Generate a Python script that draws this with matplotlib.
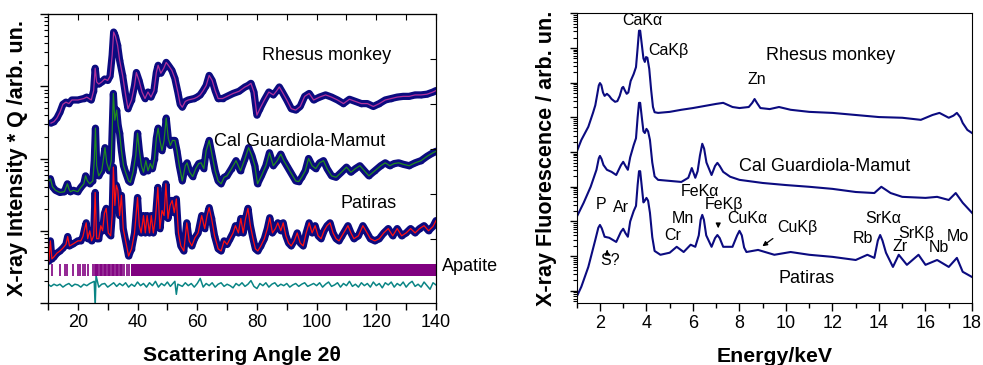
import matplotlib
matplotlib.use('Agg')
import matplotlib.pyplot as plt
import numpy as np
from matplotlib.ticker import MultipleLocator, LogLocator, NullFormatter

plt.rcParams['font.family'] = ['Liberation Sans', 'DejaVu Sans']

# ---------------- data: XRD (x = 2theta, y = log10 intensity*Q) ----------------
rhesus_xrd = [(11, 2.49), (12, 2.51), (13, 2.56), (14, 2.64), (15, 2.75), (16, 2.78), (17, 2.76), (18, 2.81),
              (20, 2.81), (22, 2.83), (23, 2.85), (24.5, 2.81), (25.3, 2.94), (25.8, 3.25), (26.3, 3.06),
              (27, 3.03), (28, 3.06), (29, 3.10), (30, 3.08), (30.8, 3.14), (31.5, 3.43), (32, 3.75),
              (32.6, 3.69), (33.3, 3.57), (34, 3.36), (35, 3.15), (36, 2.88), (36.8, 2.69), (38, 2.81),
              (39, 3.01), (39.6, 3.19), (40.5, 3.08), (41.5, 2.92), (42.5, 2.83), (43.5, 2.92), (44.5, 2.85),
              (45.5, 2.94), (46.3, 3.19), (46.9, 3.29), (47.8, 3.18), (48.8, 3.25), (49.6, 3.33), (50.5, 3.28),
              (51.5, 3.22), (52.5, 3.11), (53.5, 2.92), (54.3, 2.75), (55, 2.71), (56, 2.79), (57, 2.81),
              (58, 2.82), (59, 2.83), (60, 2.85), (61, 2.88), (62, 2.94), (63, 3.01), (64, 3.15), (65, 3.08),
              (66, 2.94), (67, 2.83), (68.5, 2.83), (70, 2.86), (72, 2.90), (74, 2.93), (76, 2.99), (77, 3.01),
              (78, 3.04), (79, 2.92), (80, 2.60), (81, 2.69), (82.5, 2.81), (84, 2.92), (85.5, 2.88),
              (86.5, 2.93), (87.5, 2.99), (88.5, 2.92), (90, 2.81), (91.5, 2.69), (93, 2.67), (94.5, 2.72),
              (96, 2.86), (97.5, 2.90), (99, 2.81), (101, 2.85), (103, 2.88), (105, 2.85), (107, 2.81),
              (109, 2.76), (111, 2.82), (113, 2.79), (115, 2.76), (117, 2.76), (119, 2.72), (121, 2.76),
              (123, 2.81), (125, 2.83), (127, 2.85), (129, 2.86), (131, 2.86), (133, 2.88), (135, 2.88),
              (137, 2.89), (139, 2.92), (140, 2.94)]

cal_xrd = [(10.3, 1.69), (10.8, 1.72), (11.5, 1.61), (12.5, 1.56), (14, 1.53), (15.5, 1.54), (16.5, 1.65),
           (17, 1.58), (17.5, 1.54), (18.5, 1.56), (20, 1.54), (21, 1.60), (22, 1.65), (22.6, 1.76),
           (23.2, 1.69), (24, 1.65), (25, 1.69), (25.5, 1.97), (25.9, 2.42), (26.3, 1.90), (27, 1.76),
           (28, 1.83), (28.5, 1.97), (29.1, 2.15), (29.7, 1.94), (30.5, 1.83), (31.2, 1.97), (31.9, 2.90),
           (32.4, 2.53), (33, 2.67), (33.5, 2.46), (34, 2.35), (34.6, 2.11), (35.3, 1.90), (36, 1.81),
           (37, 1.69), (37.6, 1.67), (38.5, 1.81), (39.4, 2.04), (40, 2.35), (40.6, 2.11), (41.3, 1.90),
           (42, 1.81), (42.8, 1.97), (43.5, 1.83), (44.3, 1.93), (45, 1.86), (45.7, 2.00), (46.3, 2.28),
           (46.9, 2.42), (47.5, 2.25), (48.2, 2.11), (48.9, 2.25), (49.6, 2.56), (50.3, 2.28), (51, 2.18),
           (51.7, 2.25), (52.5, 2.25), (53.2, 2.11), (54, 1.90), (55, 1.69), (56, 1.90), (56.6, 1.94),
           (57.5, 1.81), (58.5, 1.75), (59.5, 1.86), (60.5, 1.93), (61.3, 1.94), (62.2, 1.86), (63, 2.11),
           (64, 2.25), (65, 2.04), (66, 1.83), (67, 1.69), (68, 1.65), (69, 1.74), (70, 1.76), (71.5, 1.86),
           (73, 1.97), (74.5, 1.83), (76, 2.00), (77.2, 2.15), (78.3, 2.04), (79.3, 1.90), (80.2, 1.65),
           (81.5, 1.76), (83, 1.90), (84.2, 2.08), (85.5, 1.90), (86.8, 1.97), (88, 2.06), (89, 1.97),
           (90, 1.90), (91, 1.83), (92, 1.76), (93, 1.69), (94, 1.68), (95, 1.74), (96.2, 1.83),
           (97.3, 2.00), (98.5, 1.90), (99.7, 1.86), (101, 1.94), (102.3, 1.97), (103.5, 1.86),
           (105, 1.76), (106.5, 1.74), (108.3, 1.81), (110, 1.88), (111.5, 1.81), (113, 1.86),
           (114.5, 1.90), (116, 1.83), (117.5, 1.76), (119.5, 1.83), (121.5, 1.90), (123, 1.94),
           (124.5, 1.90), (126, 1.93), (127.5, 1.94), (129, 1.92), (131, 1.90), (133, 1.94), (135, 1.97),
           (137, 2.03), (139, 2.08), (140, 2.10)]

patiras_xrd = [(10.3, 0.58), (10.8, 0.86), (11.3, 0.61), (12, 0.64), (13, 0.69), (14, 0.72), (15, 0.76),
               (16, 0.81), (16.6, 0.92), (17.2, 0.79), (18.5, 0.82), (20, 0.86), (21, 0.86), (21.7, 0.92),
               (22.3, 1.03), (22.8, 1.11), (23.3, 0.89), (24, 1.00), (24.6, 0.86), (25.3, 0.93), (25.8, 1.53),
               (26.3, 0.89), (27, 0.89), (27.7, 1.07), (28.3, 1.00), (28.9, 1.24), (29.5, 1.31), (30.2, 0.97),
               (31, 0.93), (31.5, 1.21), (31.9, 1.88), (32.4, 1.35), (32.9, 1.63), (33.4, 1.56), (34, 1.21),
               (34.6, 1.49), (35.2, 1.03), (36, 0.86), (37, 0.65), (38, 0.75), (39, 0.97), (40, 1.46),
               (40.6, 1.07), (41.2, 0.97), (42, 1.21), (42.6, 0.97), (43.2, 1.21), (44, 0.97), (44.6, 1.21),
               (45.3, 0.97), (46, 1.17), (46.8, 1.60), (47.5, 1.03), (48.2, 1.28), (48.9, 1.21), (49.5, 1.65),
               (50.2, 1.17), (50.9, 1.35), (51.6, 1.42), (52.3, 1.25), (53, 1.44), (53.7, 0.97), (54.5, 0.79),
               (55.5, 0.72), (56.5, 1.11), (57.3, 0.86), (58.2, 0.79), (59.2, 0.90), (60.3, 0.97),
               (61.5, 1.21), (62.5, 1.03), (63.3, 1.21), (64, 1.32), (64.8, 1.17), (65.8, 0.93), (67, 0.75),
               (68, 0.72), (69, 0.86), (70, 0.81), (71, 0.89), (72, 0.97), (72.8, 1.07), (73.8, 0.97),
               (74.6, 1.17), (75.4, 0.97), (76.2, 1.17), (77, 1.31), (77.8, 1.07), (78.7, 0.89), (79.5, 0.75),
               (80.3, 0.72), (81.3, 0.79), (82.5, 0.89), (83.5, 1.03), (84.3, 1.18), (85.2, 0.97),
               (86.2, 1.03), (87, 1.11), (88, 1.00), (88.8, 1.11), (89.7, 0.93), (90.6, 0.83), (91.5, 0.79),
               (92.5, 0.86), (93.5, 0.97), (94.5, 0.83), (95.5, 0.79), (96.5, 0.97), (97.5, 1.11),
               (98.5, 0.97), (99.5, 1.07), (100.5, 0.93), (101.5, 0.89), (102.5, 1.00), (103.5, 1.07),
               (104.5, 1.11), (105.5, 0.97), (106.5, 0.89), (107.5, 0.86), (108.5, 0.93), (109.5, 1.00),
               (110.5, 1.07), (111.5, 0.97), (112.5, 0.89), (114, 0.93), (115.5, 1.07), (116.5, 1.00),
               (118, 0.89), (119.5, 0.86), (121, 0.89), (122.5, 0.97), (124, 1.03), (125.5, 0.93),
               (127, 1.03), (128.5, 0.93), (130, 0.97), (131.5, 1.03), (133, 0.97), (134.5, 1.03),
               (136, 1.07), (137.5, 1.00), (139, 1.06), (140, 1.14)]

difference_xrd = [(10.3, 0.25), (11, 0.23), (12, 0.26), (13, 0.24), (14, 0.26), (15, 0.22), (16, 0.25),
                  (17, 0.27), (18, 0.23), (19, 0.26), (20, 0.25), (21, 0.22), (22, 0.26), (23, 0.24),
                  (24, 0.27), (25.5, 0.30), (25.8, -0.05), (26.1, 0.38), (27, 0.22), (28, 0.26), (29, 0.27),
                  (30, 0.22), (31, 0.25), (32, 0.28), (33, 0.23), (34, 0.27), (35, 0.24), (36, 0.28),
                  (37, 0.22), (38, 0.26), (39, 0.23), (40, 0.29), (41, 0.24), (42, 0.27), (43, 0.22),
                  (44, 0.28), (45, 0.24), (46, 0.30), (47, 0.22), (48, 0.27), (49, 0.24), (50, 0.29),
                  (51, 0.23), (52.5, 0.30), (53, 0.12), (53.5, 0.26), (55, 0.23), (56, 0.28), (57, 0.24),
                  (58, 0.27), (59, 0.22), (60, 0.27), (61, 0.34), (62, 0.22), (63, 0.27), (64, 0.24),
                  (65, 0.28), (66, 0.22), (67, 0.26), (68, 0.28), (69, 0.23), (70, 0.26), (71, 0.24),
                  (72, 0.21), (73, 0.27), (74, 0.24), (75, 0.28), (76, 0.23), (77, 0.26), (78, 0.31),
                  (79, 0.23), (80, 0.20), (81, 0.27), (82, 0.24), (83, 0.28), (84, 0.22), (85, 0.26),
                  (86, 0.28), (87, 0.23), (88, 0.26), (89, 0.24), (90, 0.27), (91, 0.22), (92, 0.25),
                  (93, 0.27), (94, 0.23), (95, 0.26), (96, 0.28), (97, 0.23), (98, 0.25), (99, 0.27),
                  (100, 0.24), (101, 0.28), (102, 0.22), (103, 0.26), (104, 0.29), (105, 0.23), (106, 0.25),
                  (107, 0.28), (108, 0.22), (109, 0.27), (110, 0.24), (111, 0.30), (112, 0.23), (113, 0.26),
                  (114, 0.22), (115, 0.28), (116, 0.24), (117, 0.27), (118, 0.22), (119, 0.29), (120, 0.24),
                  (121, 0.27), (122, 0.21), (123, 0.28), (124, 0.25), (125, 0.29), (126, 0.22), (127, 0.27),
                  (128, 0.24), (129, 0.29), (130, 0.22), (131, 0.27), (132, 0.30), (133, 0.23), (134, 0.26),
                  (135, 0.22), (136, 0.29), (137, 0.24), (138, 0.19), (139, 0.28), (140, 0.25)]

apatite_reflections = [11.3, 13.9, 15.8, 16.3, 18.3, 20.0, 20.8, 21.7, 22.5, 23.4, 25.2, 25.6, 26.0, 26.5,
                       26.9, 27.4, 27.8, 28.2, 28.7, 29.1, 29.6, 30.0, 30.5, 30.9, 31.4, 31.8, 32.2, 32.7,
                       33.1, 33.6, 34.0, 34.5, 34.9, 35.3, 36.4, 37.0]
apatite_dense_range = (37.8, 140.0)
apatite_band = (0.375, 0.54)   # log10 extent of tick marks

# ---------------- data: XRF (x = keV, y = log10 fluorescence) ----------------
rhesus_xrf = [(1.0, 4.01), (1.2, 4.35), (1.5, 4.73), (1.7, 5.13), (1.8, 5.35), (1.88, 5.65), (1.95, 5.92),
              (2.0, 5.99), (2.06, 5.93), (2.13, 5.72), (2.2, 5.62), (2.3, 5.68), (2.4, 5.62), (2.5, 5.53),
              (2.65, 5.45), (2.75, 5.47), (2.85, 5.62), (2.95, 5.85), (3.0, 5.88), (3.07, 5.78), (3.15, 5.68),
              (3.22, 5.72), (3.32, 6.05), (3.45, 6.25), (3.55, 6.45), (3.62, 7.0), (3.68, 7.5), (3.73, 7.5),
              (3.8, 7.1), (3.87, 6.7), (3.93, 6.6), (3.98, 6.74), (4.04, 6.72), (4.12, 6.4), (4.2, 5.8),
              (4.28, 5.3), (4.35, 5.15), (4.5, 5.13), (5.0, 5.16), (5.5, 5.22), (6.0, 5.27), (6.5, 5.33),
              (7.0, 5.39), (7.3, 5.42), (7.7, 5.30), (8.0, 5.27), (8.4, 5.30), (8.55, 5.42), (8.65, 5.53),
              (8.75, 5.42), (8.9, 5.27), (9.3, 5.24), (9.7, 5.30), (10.2, 5.22), (11, 5.16), (12, 5.13),
              (13, 5.07), (14, 5.01), (15, 4.99), (15.8, 4.93), (16.3, 5.07), (16.6, 5.13), (17.0, 4.99),
              (17.2, 5.05), (17.35, 5.13), (17.5, 5.0), (17.6, 4.84), (17.8, 4.64), (18.0, 4.55)]

cal_xrf = [(1.0, 2.13), (1.3, 2.54), (1.6, 3.00), (1.85, 3.49), (1.95, 3.82), (2.0, 3.89), (2.07, 3.80),
           (2.15, 3.63), (2.3, 3.49), (2.5, 3.43), (2.7, 3.34), (2.9, 3.62), (3.0, 3.72), (3.1, 3.60),
           (3.2, 3.49), (3.3, 3.85), (3.45, 4.20), (3.55, 4.40), (3.62, 5.00), (3.68, 5.42), (3.73, 5.42),
           (3.8, 5.00), (3.87, 4.60), (3.93, 4.55), (4.0, 4.67), (4.07, 4.60), (4.15, 4.35), (4.25, 3.70),
           (4.35, 3.30), (4.5, 3.20), (5.0, 3.17), (5.5, 3.14), (5.8, 3.26), (5.95, 3.54), (6.1, 3.26),
           (6.2, 3.45), (6.3, 3.90), (6.4, 4.24), (6.48, 4.10), (6.58, 3.70), (6.8, 3.34), (6.95, 3.60),
           (7.05, 3.69), (7.15, 3.60), (7.3, 3.43), (7.6, 3.29), (8.0, 3.20), (9.0, 3.11), (10, 3.05),
           (11, 3.00), (12, 2.94), (13, 2.85), (13.8, 2.82), (14.1, 3.00), (14.5, 2.82), (15, 2.71),
           (16, 2.68), (16.5, 2.71), (17, 2.62), (17.3, 2.82), (17.6, 2.54), (18, 2.25)]

patiras_xrf = [(1.0, -0.17), (1.2, 0.12), (1.5, 0.69), (1.8, 1.47), (1.93, 1.82), (2.0, 1.90), (2.08, 1.80),
               (2.2, 1.56), (2.4, 1.53), (2.7, 1.41), (2.9, 1.70), (3.0, 1.79), (3.1, 1.66), (3.2, 1.56),
               (3.3, 2.00), (3.45, 2.30), (3.55, 2.45), (3.62, 3.05), (3.68, 3.45), (3.73, 3.45), (3.8, 3.00),
               (3.87, 2.55), (3.93, 2.60), (4.0, 2.68), (4.07, 2.60), (4.15, 2.25), (4.25, 1.55), (4.35, 1.15),
               (4.6, 1.04), (5.0, 1.10), (5.3, 1.27), (5.6, 1.12), (5.9, 1.33), (6.1, 1.27), (6.25, 1.60),
               (6.33, 2.05), (6.4, 2.19), (6.47, 2.05), (6.57, 1.60), (6.8, 1.27), (6.95, 1.52), (7.05, 1.61),
               (7.15, 1.52), (7.3, 1.27), (7.7, 1.27), (7.9, 1.60), (8.0, 1.73), (8.1, 1.60), (8.2, 1.25),
               (8.3, 1.12), (8.8, 1.18), (9.5, 1.04), (10.2, 1.12), (11, 1.04), (12, 0.98), (13, 0.89),
               (13.5, 1.04), (13.8, 0.95), (13.95, 1.45), (14.05, 1.61), (14.15, 1.45), (14.3, 1.10),
               (14.6, 0.69), (14.85, 1.04), (15.2, 0.75), (15.7, 1.04), (16.0, 0.75), (16.5, 0.89),
               (17.0, 0.69), (17.35, 0.95), (17.6, 0.55), (18.0, 0.40)]


def unzip_log(pts):
    x = np.array([p[0] for p in pts], dtype=float)
    y = 10.0 ** np.array([p[1] for p in pts], dtype=float)
    return x, y


NAVY = '#0b0b80'
fig = plt.figure(figsize=(9.83, 3.65), dpi=100)
W, H = 983.0, 365.0

# ======================= left panel =======================
axL = fig.add_axes([48 / W, 1 - 303 / H, 388 / W, 289 / H])
for pts, fitcol in [(rhesus_xrd, '#b0309a'), (cal_xrd, '#1f8a1f'), (patiras_xrd, '#ff1010')]:
    x, y = unzip_log(pts)
    axL.plot(x, y, color=NAVY, lw=5.2, solid_joinstyle='round', solid_capstyle='round', zorder=2)
    axL.plot(x, y, 'o', color=NAVY, ms=3, zorder=2)
    axL.plot(x, y, color=fitcol, lw=0.9, zorder=3)

xd, yd = unzip_log(difference_xrd)
axL.plot(xd, yd, color='#0a8585', lw=1.1, zorder=2)
lo, hi = 10 ** apatite_band[0], 10 ** apatite_band[1]
axL.vlines(apatite_reflections, lo, hi, color='#800080', lw=1.2)
axL.fill_between(list(apatite_dense_range), lo, hi, color='#800080', lw=0)

axL.set_yscale('log')
axL.set_xlim(10, 140)
axL.set_ylim(1, 1e4)
axL.xaxis.set_major_locator(MultipleLocator(20))
axL.xaxis.set_minor_locator(MultipleLocator(10))
axL.yaxis.set_major_locator(LogLocator(base=10))
axL.yaxis.set_minor_locator(LogLocator(base=10, subs=np.arange(2, 10)))
axL.yaxis.set_major_formatter(NullFormatter())
axL.yaxis.set_minor_formatter(NullFormatter())
axL.tick_params(axis='x', which='both', direction='out', length=5, width=1, labelsize=13, pad=3)
axL.tick_params(axis='y', which='major', direction='out', length=5.5, width=1)
axL.tick_params(axis='y', which='minor', direction='out', length=3, width=0.8)
topL = axL.secondary_xaxis('top')
topL.xaxis.set_major_locator(MultipleLocator(10))
topL.tick_params(direction='in', length=4, labeltop=False)
twinL = axL.twinx()
twinL.set_ylim(-1.42, 5.0)
twinL.set_yticks([0, 1, 2, 3, 4])
twinL.tick_params(direction='in', length=4, labelright=False)

axL.set_xlabel('Scattering Angle 2θ', fontsize=15.3, fontweight='bold')
axL.xaxis.set_label_coords(0.5, -0.15)
axL.set_ylabel('X-ray Intensity * Q /arb. un.', fontsize=15.5, fontweight='bold')
axL.yaxis.set_label_coords(-0.052, 0.5)

axL.text(0.718, 0.858, 'Rhesus monkey', transform=axL.transAxes, fontsize=13, ha='center', va='center')
axL.text(0.649, 0.558, 'Cal Guardiola-Mamut', transform=axL.transAxes, fontsize=13, ha='center', va='center')
axL.text(0.825, 0.346, 'Patiras', transform=axL.transAxes, fontsize=13, ha='center', va='center')
axL.text(1.088, 0.126, 'Apatite', transform=axL.transAxes, fontsize=13, ha='center', va='center', clip_on=False)

# ======================= right panel =======================
axR = fig.add_axes([576.7 / W, 1 - 303 / H, 395.3 / W, 290 / H])
for pts in [rhesus_xrf, cal_xrf, patiras_xrf]:
    x, y = unzip_log(pts)
    axR.plot(x, y, color=NAVY, lw=1.5)
axR.set_yscale('log')
axR.set_xlim(1, 18)
axR.set_ylim(10 ** -0.35, 10 ** 8.01)
axR.xaxis.set_major_locator(MultipleLocator(2))
axR.xaxis.set_minor_locator(MultipleLocator(1))
axR.yaxis.set_major_locator(LogLocator(base=10, numticks=20))
axR.yaxis.set_minor_locator(LogLocator(base=10, subs=np.arange(2, 10), numticks=20))
axR.yaxis.set_major_formatter(NullFormatter())
axR.yaxis.set_minor_formatter(NullFormatter())
axR.tick_params(axis='x', which='major', direction='out', length=5.5, width=1, labelsize=13, pad=3)
axR.tick_params(axis='x', which='minor', direction='out', length=3.5, width=1)
axR.tick_params(axis='y', which='major', direction='out', length=5, width=1)
axR.tick_params(axis='y', which='minor', direction='out', length=3, width=0.8)
axR.set_xlabel('Energy/keV', fontsize=15.3, fontweight='bold')
axR.xaxis.set_label_coords(0.5, -0.15)
axR.set_ylabel('X-ray Fluorescence / arb. un.', fontsize=15.5, fontweight='bold')
axR.yaxis.set_label_coords(-0.05, 0.5)

labels_big = [(0.641, 0.855, 'Rhesus monkey'), (0.628, 0.472, 'Cal Guardiola-Mamut'), (0.581, 0.083, 'Patiras')]
for xx, yy, t in labels_big:
    axR.text(xx, yy, t, transform=axR.transAxes, fontsize=13, ha='center', va='center')
labels_small = [(0.167, 0.973, 'CaKα'), (0.231, 0.870, 'CaKβ'), (0.455, 0.769, 'Zn'), (0.312, 0.384, 'FeKα'),
                (0.373, 0.338, 'FeKβ'), (0.061, 0.341, 'P'), (0.112, 0.328, 'Ar'), (0.268, 0.290, 'Mn'),
                (0.244, 0.232, 'Cr'), (0.431, 0.290, 'CuKα'), (0.559, 0.259, 'CuKβ'), (0.775, 0.293, 'SrKα'),
                (0.724, 0.221, 'Rb'), (0.860, 0.240, 'SrKβ'), (0.818, 0.195, 'Zr'), (0.917, 0.190, 'Nb'),
                (0.965, 0.228, 'Mo'), (0.084, 0.146, 'S?')]
for xx, yy, t in labels_small:
    axR.text(xx, yy, t, transform=axR.transAxes, fontsize=11.5, ha='center', va='center')
arrows = [((0.077, 0.193), (0.077, 0.166)), ((0.358, 0.248), (0.358, 0.279)), ((0.464, 0.190), (0.502, 0.228))]
for tip, tail in arrows:
    axR.annotate('', xy=tip, xytext=tail, xycoords='axes fraction', textcoords='axes fraction',
                 arrowprops=dict(arrowstyle='-|>', color='black', lw=0.9, mutation_scale=7))

fig.savefig('out.png', dpi=100)
